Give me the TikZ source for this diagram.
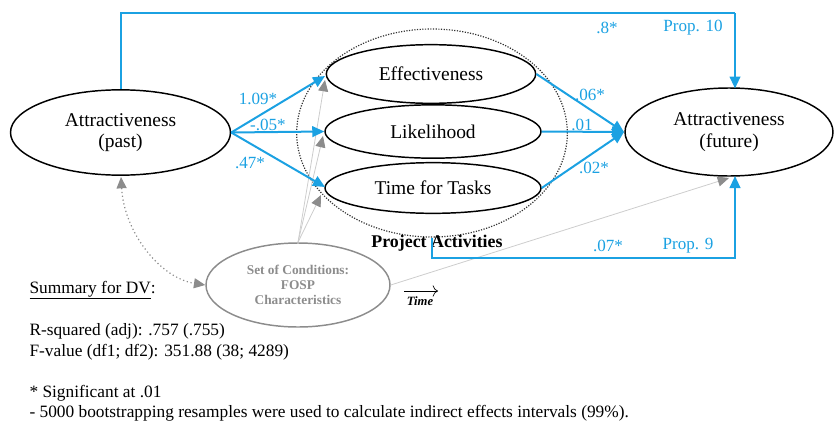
\documentclass[tikz,border=0pt]{standalone}
\usepackage{fontspec}
\setmainfont{Liberation Serif}
\usetikzlibrary{shapes.geometric,arrows.meta}
\definecolor{pathblue}{RGB}{27,161,226}
\definecolor{condgray}{RGB}{140,140,140}
\definecolor{linegray}{RGB}{205,205,205}
\tikzset{
  every picture/.style={line width=0.75pt},
  var/.style={ellipse,draw,line width=1.1pt,inner sep=0pt,font=\fontsize{14.6}{16}\selectfont,align=center},
  conn/.style={draw=pathblue,line width=1.5pt,-{Triangle[length=9pt,width=8pt]}},
  plain/.style={draw=pathblue,line width=1.5pt},
  coef/.style={text=pathblue,font=\fontsize{12.8}{14}\selectfont},
  ctrl/.style={draw=linegray,line width=0.6pt,-{Triangle[length=8.5pt,width=7.5pt,color=condgray]}},
  note/.style={anchor=base west,inner sep=0pt,font=\fontsize{13}{14}\selectfont}
}
\begin{document}
\begin{tikzpicture}[x=0.75pt,y=0.75pt,yscale=-1,xscale=1]
\useasboundingbox (0,0) rectangle (835,421);

% Project activities (dotted group)
\node[ellipse,draw=black!80,line width=0.9pt,dash pattern={on 0.9pt off 1.1pt},minimum width=203pt,minimum height=156pt] (proj) at (432,133) {};
\node[font=\bfseries\fontsize{13.4}{15}\selectfont] (projlbl) at (437,243) {Project Activities};

% Variables
\node[var,minimum width=165pt,minimum height=64pt] (past) at (120.5,132.5) {Attractiveness\\(past)};
\node[var,minimum width=157pt,minimum height=44pt] (eff) at (431,74) {Effectiveness};
\node[var,minimum width=162pt,minimum height=40pt] (lik) at (433,131.5) {Likelihood};
\node[var,minimum width=162pt,minimum height=38pt] (tft) at (433,188) {Time for Tasks};
\node[var,minimum width=156pt,minimum height=66pt] (fut) at (729,132) {Attractiveness\\(future)};
\node[ellipse,draw=condgray,line width=1.1pt,inner sep=0pt,minimum width=138pt,minimum height=63pt,
      text=condgray,font=\bfseries\fontsize{10}{11.5}\selectfont,align=center] (cond) at (298,285)
      {Set of Conditions:\\FOSP\\Characteristics};

\coordinate (fN) at (735,88.5);
\coordinate (fS) at (735,176);
\coordinate (top) at (735,13);
\coordinate (bot) at (432,258);
\coordinate (hub) at (624,132);

% Control paths
\draw[ctrl] (cond.north) -- (325,80);
\draw[ctrl] (cond.north) -- (323,136);
\draw[ctrl] (cond.north) -- (321,195);
\draw[ctrl] (cond.east) -- (729,178);
\draw[draw=condgray,line width=0.9pt,dotted,{Triangle[length=8.5pt,width=7.5pt]}-{Triangle[length=8.5pt,width=7.5pt]}]
  (121,177) .. controls (124,232) and (160,278) .. (cond.west);

% Direct paths
\draw[plain] (past.north) |- (top);
\draw[conn] (top) -- (fN);
\draw[plain] (proj.south) -- (bot) -| (735,200);
\draw[conn] (735,200) -- (fS);

% Indirect paths
\draw[conn] (past.east) -- (325,76);
\draw[conn] (past.east) -- (lik.west);
\draw[conn] (past.east) -- (325,187);
\draw[conn] (eff.east) -- (hub);
\draw[conn] (lik.east) -- (hub);
\draw[conn] (tft.east) -- (hub);

% Coefficients
\node[coef] (c1) at (258,99) {1.09*};
\node[coef] (c2) at (268,125) {-.05*};
\node[coef] (c3) at (250,163) {.47*};
\node[coef] (c4) at (590,95) {.06*};
\node[coef] (c5) at (582,125) {.01};
\node[coef] (c6) at (594,168) {.02*};
\node[coef] (c7) at (607,28) {.8*};
\node[coef] (c8) at (693,28) {Prop. 10};
\node[coef] (c9) at (608,246) {.07*};
\node[coef] (c10) at (688,246) {Prop. 9};

% Time arrow
\coordinate (t1) at (404,291);
\coordinate (t2) at (438,291);
\draw[line width=0.5pt,-{To[length=4pt]}] (t1) -- (t2);
\node[font=\bfseries\itshape\fontsize{9.5}{11}\selectfont] (time) at (420,301) {Time};

% Summary
\node[note] (sum) at (29,293) {\underline{Summary for DV}:};
\node[note] (rsq) at (29,335) {R-squared (adj): .757 (.755)};
\node[note] (fval) at (29,356) {F-value (df1; df2): 351.88 (38; 4289)};
\node[note] (sig) at (29,397) {* Significant at .01};
\node[note] (boot) at (29,417) {- 5000 bootstrapping resamples were used to calculate indirect effects intervals (99\%).};
\end{tikzpicture}
\end{document}
